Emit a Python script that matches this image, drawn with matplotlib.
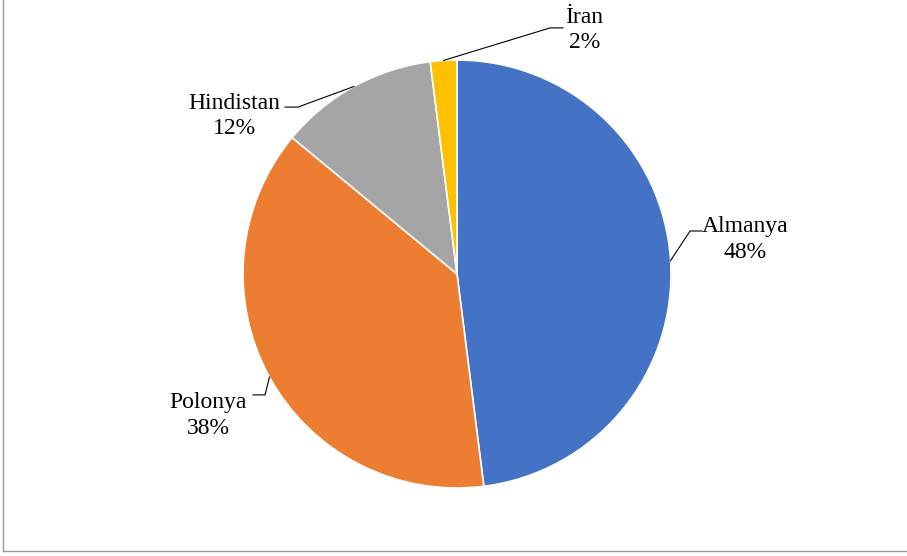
import matplotlib.pyplot as plt
from matplotlib.lines import Line2D
import numpy as np

# data
countries = ['Almanya', 'Polonya', 'Hindistan', 'İran']
shares = [48, 38, 12, 2]
colors = ['#4472C4', '#ED7D31', '#A5A5A5', '#FFC000']

# label layout: text centre, elbow point, end of horizontal segment (data coords)
label_pos = [(1.345, 0.163), (-1.164, -0.660), (-1.042, 0.738), (0.595, 1.140)]
elbow_pos = [(1.089, 0.201), (-0.897, -0.565), (-0.743, 0.780), (0.435, 1.150)]
line_end_x = [1.145, -0.953, -0.804, 0.495]

plt.rcParams['font.family'] = ['Liberation Serif', 'DejaVu Serif']

fig = plt.figure(figsize=(9.07, 5.56), dpi=100)
W, H = 907, 556
cx, cy, r = 457, 274, 214
ax = fig.add_axes([(cx - r) / W, (H - cy - r) / H, 2 * r / W, 2 * r / H])

wedges, _ = ax.pie(shares, colors=colors, startangle=90, counterclock=False,
                   radius=1, wedgeprops=dict(edgecolor='white', linewidth=1.2))
ax.set_xlim(-1, 1)
ax.set_ylim(-1, 1)
ax.set_aspect('equal')
ax.axis('off')

for w, name, pct, (tx, ty), (ex, ey), lx in zip(wedges, countries, shares,
                                                 label_pos, elbow_pos, line_end_x):
    mid = np.deg2rad((w.theta1 + w.theta2) / 2)
    px, py = np.cos(mid), np.sin(mid)
    ax.plot([px, ex, lx], [py, ey, ey], color='black', lw=0.8, clip_on=False)
    ax.text(tx, ty, f'{name}\n{pct}%', ha='center', va='center', fontsize=17,
            linespacing=1.3, color='black', clip_on=False)

# outer frame (left and bottom edges visible)
fig.add_artist(Line2D([2.5 / W, 2.5 / W], [5 / H, 1], color='#999999', lw=1.0))
fig.add_artist(Line2D([2.5 / W, 1], [5 / H, 5 / H], color='#999999', lw=1.0))

fig.savefig('out.png', dpi=100)
